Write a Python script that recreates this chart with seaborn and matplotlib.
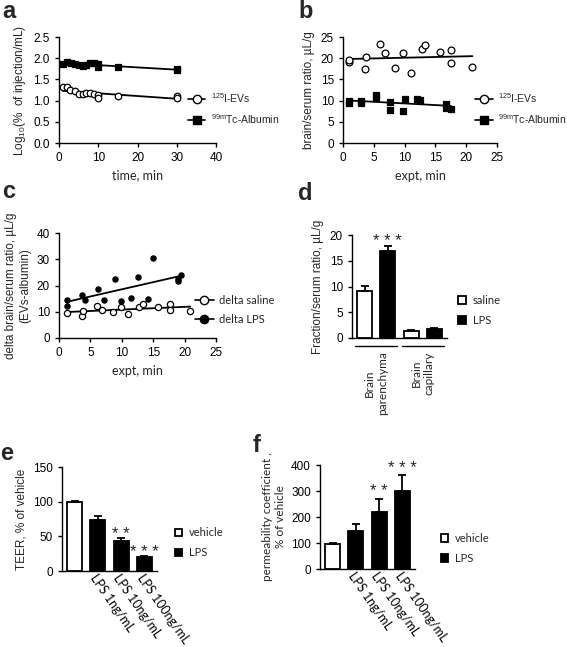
import numpy as np
import pandas as pd
import matplotlib
matplotlib.use("Agg")
import matplotlib.pyplot as plt
import seaborn as sns
from matplotlib.lines import Line2D
from matplotlib.transforms import blended_transform_factory

# =========================================
# Data
# =========================================
# a: log10(% of injection/mL) vs time
a_ev_time = [1, 2, 2.8, 4, 5, 6, 7, 8, 9, 10, 10, 15, 30, 30]
a_ev_log = [1.31, 1.31, 1.24, 1.23, 1.16, 1.15, 1.19, 1.19, 1.16, 1.14, 1.07, 1.10, 1.11, 1.05]
a_alb_time = [1, 2, 3, 4, 5, 6, 7, 8, 9, 10, 10, 15, 30, 30]
a_alb_log = [1.86, 1.92, 1.88, 1.86, 1.85, 1.82, 1.85, 1.88, 1.88, 1.86, 1.79, 1.80, 1.75, 1.71]

# b: brain/serum ratio vs expt
b_ev_time = [1, 1, 3.5, 3.8, 6, 6.8, 8.5, 9.8, 11, 12.8, 13.3, 15.7, 17.5, 17.5, 21]
b_ev_ratio = [19.0, 19.6, 17.5, 20.3, 23.3, 21.2, 17.6, 21.2, 16.5, 22.1, 23.1, 21.5, 22.0, 18.8, 18.0]
b_alb_time = [1, 1, 3, 3, 5.3, 5.3, 7.6, 7.6, 9.8, 10.1, 12, 12.5, 16.7, 16.7, 17.5]
b_alb_ratio = [9.8, 9.5, 9.9, 9.4, 11.3, 10.6, 9.6, 7.8, 7.6, 10.3, 10.3, 10.1, 9.1, 8.3, 8.0]

# c: delta brain/serum ratio (EVs-albumin)
c_sal_time = [1.2, 3.6, 3.8, 6.1, 6.9, 8.6, 9.8, 11, 12.8, 13.4, 15.7, 17.7, 17.7, 20.9]
c_sal_ratio = [9.5, 8.3, 10.4, 12.1, 10.8, 9.9, 11.8, 9.1, 11.8, 13.0, 11.7, 13.0, 10.8, 10.2]
c_lps_time = [1.2, 1.2, 3.6, 4.1, 6.2, 7.1, 8.9, 9.9, 11.5, 12.6, 14.1, 15, 19, 19, 19.5]
c_lps_ratio = [14.6, 12.1, 16.5, 14.6, 18.7, 14.5, 22.5, 14.0, 15.2, 23.4, 14.9, 30.5, 21.6, 22.6, 24.1]

# d: fraction/serum ratio
d_bars = ["par_saline", "par_LPS", "cap_saline", "cap_LPS"]
d_treat = ["saline", "LPS", "saline", "LPS"]
d_mean = [9.2, 16.8, 1.3, 1.8]
d_err = [0.9, 1.1, 0.2, 0.15]
d_stars = ["", "* * *", "", ""]
d_groups = ["Brain\nparenchyma", "Brain\ncapillary"]

# e: TEER
e_labels = ["vehicle", "LPS 1ng/mL", "LPS 10ng/mL", "LPS 100ng/mL"]
e_treat = ["vehicle", "LPS", "LPS", "LPS"]
e_mean = [99, 73, 43, 20]
e_err = [2, 6, 4, 1]
e_stars = ["", "", "* *", "* * *"]

# f: permeability coefficient
f_labels = ["vehicle", "LPS 1ng/mL", "LPS 10ng/mL", "LPS 100ng/mL"]
f_treat = ["vehicle", "LPS", "LPS", "LPS"]
f_mean = [98, 148, 218, 300]
f_err = [3, 25, 52, 60]
f_stars = ["", "", "* *", "* * *"]

# =========================================
# Style
# =========================================
sns.set_theme(style="ticks")
plt.rcParams["font.family"] = ["Liberation Sans", "DejaVu Sans"]
plt.rcParams["mathtext.default"] = "regular"
plt.rcParams["font.size"] = 8.5
plt.rcParams["axes.linewidth"] = 1.0
plt.rcParams["axes.edgecolor"] = "black"
plt.rcParams["xtick.major.width"] = 1.0
plt.rcParams["ytick.major.width"] = 1.0
plt.rcParams["xtick.major.size"] = 3
plt.rcParams["ytick.major.size"] = 3
plt.rcParams["xtick.labelsize"] = 8.5
plt.rcParams["ytick.labelsize"] = 8.5
plt.rcParams["axes.labelsize"] = 8.5
plt.rcParams["xtick.color"] = "black"
plt.rcParams["ytick.color"] = "black"

CAL = {"family": "Lato", "size": 8}

W, H = 567, 647
fig = plt.figure(figsize=(W / 100, H / 100), dpi=100)


def px_axes(left, right, top, bottom):
    return fig.add_axes([left / W, 1 - bottom / H, (right - left) / W, (bottom - top) / H])


def letter(x, y, s):
    fig.text(x / W, 1 - y / H, s, fontsize=17, fontweight="bold", va="baseline", ha="left")


def reg(ax, x, y, marker, face, s):
    sns.regplot(x=x, y=y, ci=None, ax=ax, marker=marker, color="black",
                scatter_kws=dict(s=s, facecolors=face, edgecolors="black", linewidths=0.9, alpha=1, zorder=3),
                line_kws=dict(color="black", lw=1.3))


def line_legend(ax, handles, labels, anchor, prop):
    ax.legend(handles, labels, loc="center left", bbox_to_anchor=anchor, frameon=False,
              handlelength=1.7, handletextpad=0.5, labelspacing=0.7, borderpad=0, borderaxespad=0, prop=prop)


h_open = Line2D([], [], color="black", lw=1.2, marker="o", mfc="white", mec="black", ms=6)
h_sq = Line2D([], [], color="black", lw=1.2, marker="s", mfc="black", mec="black", ms=6)
h_dot = Line2D([], [], color="black", lw=1.2, marker="o", mfc="black", mec="black", ms=6)

# ---------- a ----------
ax = px_axes(59, 216, 37, 143)
reg(ax, a_ev_time, a_ev_log, "o", "white", 22)
reg(ax, a_alb_time, a_alb_log, "s", "black", 24)
ax.set_xlim(0, 40)
ax.set_ylim(0, 2.5)
ax.set_xticks([0, 10, 20, 30, 40])
ax.set_yticks([0, 0.5, 1.0, 1.5, 2.0, 2.5])
ax.set_xlabel("time, min", fontdict=dict(family="Lato", size=9))
ax.set_ylabel(r"Log$_{10}$(%  of injection/mL)")
line_legend(ax, [h_open, h_sq], [r"$^{125}$I-EVs", r"$^{99m}$Tc-Albumin"], (0.82, 0.325),
            {"size": 7.5})
sns.despine(ax=ax)
letter(2, 18, "a")

# ---------- b ----------
ax = px_axes(343, 497, 37, 143)
reg(ax, b_ev_time, b_ev_ratio, "o", "white", 24)
reg(ax, b_alb_time, b_alb_ratio, "s", "black", 24)
ax.set_xlim(0, 25)
ax.set_ylim(0, 25)
ax.set_xticks([0, 5, 10, 15, 20, 25])
ax.set_yticks([0, 5, 10, 15, 20, 25])
ax.set_xlabel("expt, min", fontdict=dict(family="Lato", size=9))
ax.set_ylabel("brain/serum ratio, µL/g")
line_legend(ax, [h_open, h_sq], [r"$^{125}$I-EVs", r"$^{99m}$Tc-Albumin"], (0.857, 0.325),
            {"size": 7.5})
sns.despine(ax=ax)
letter(298, 18, "b")

# ---------- c ----------
ax = px_axes(59, 216, 233, 338)
reg(ax, c_sal_time, c_sal_ratio, "o", "white", 20)
reg(ax, c_lps_time, c_lps_ratio, "o", "black", 14)
ax.set_xlim(0, 25)
ax.set_ylim(0, 40)
ax.set_xticks([0, 5, 10, 15, 20, 25])
ax.set_yticks([0, 10, 20, 30, 40])
ax.set_xlabel("expt, min", fontdict=dict(family="Lato", size=9))
ax.set_ylabel("delta brain/serum ratio, µL/g\n(EVs-albumin)")
line_legend(ax, [h_open, h_dot], ["delta saline", "delta LPS"], (0.866, 0.267), CAL)
sns.despine(ax=ax)
letter(2, 198, "c")


# ---------- bar panels ----------
def bar_panel(ax, names, treat, mean, err, stars, palette, star_pad):
    df = pd.DataFrame({"bar": names, "value": mean, "treatment": treat})
    sns.barplot(data=df, x="bar", y="value", hue="treatment", palette=palette, dodge=False,
                width=0.65, edgecolor="black", linewidth=1.3, errorbar=None, ax=ax)
    pos = np.arange(len(mean))
    ax.errorbar(pos, mean, yerr=[np.zeros(len(err)), err], fmt="none", ecolor="black",
                elinewidth=1.3, capsize=3, capthick=1.3, zorder=4)
    for p, m, e, s in zip(pos, mean, err, stars):
        if s:
            ax.annotate(s, (p, m + e), xytext=(0, star_pad), textcoords="offset points",
                        ha="center", va="baseline", fontsize=12)
    ax.set_xlim(-0.54, 3.54)
    ax.set_xlabel("")
    ax.tick_params(axis="x", length=0, pad=1)
    sns.despine(ax=ax)


# ---------- d ----------
ax = px_axes(352, 447, 235, 338)
bar_panel(ax, d_bars, d_treat, d_mean, d_err, d_stars, {"saline": "white", "LPS": "black"}, 0)
ax.set_ylim(0, 20)
ax.set_yticks([0, 5, 10, 15, 20])
ax.set_xticks([])
ax.set_ylabel("Fraction/serum ratio, µL/g")
tr = blended_transform_factory(ax.transData, ax.transAxes)
for (x0, x1), name in zip([(-0.4, 1.4), (1.6, 3.4)], d_groups):
    ax.plot([x0, x1], [-0.08, -0.08], color="black", lw=1.0, transform=tr, clip_on=False)
    ax.text((x0 + x1) / 2, -0.13, name, transform=tr, rotation=90, ha="center", va="top",
            multialignment="center", family="Lato", size=8.5)
sns.move_legend(ax, "center left", bbox_to_anchor=(1.12, 0.267), frameon=False, title=None,
                handlelength=0.7, handleheight=0.7, labelspacing=0.8, handletextpad=0.6,
                borderpad=0, borderaxespad=0, prop=CAL)
letter(298, 200, "d")

# ---------- e ----------
ax = px_axes(62, 157, 467, 571)
bar_panel(ax, e_labels, e_treat, e_mean, e_err, e_stars, {"vehicle": "white", "LPS": "black"}, -0.5)
ax.set_ylim(0, 150)
ax.set_yticks([0, 50, 100, 150])
ax.set_xticks(range(4))
ax.set_xticklabels([""] + e_labels[1:], rotation=-55, ha="left", rotation_mode="anchor",
                   family="Lato", size=9)
ax.set_ylabel("TEER, % of vehicle")
sns.move_legend(ax, "center left", bbox_to_anchor=(1.185, 0.27), frameon=False, title=None,
                handlelength=0.7, handleheight=0.7, labelspacing=0.8, handletextpad=0.6,
                borderpad=0, borderaxespad=0, prop=CAL)
letter(0, 460, "e")

# ---------- f ----------
ax = px_axes(320, 415, 465, 569)
bar_panel(ax, f_labels, f_treat, f_mean, f_err, f_stars, {"vehicle": "white", "LPS": "black"}, 2)
ax.set_ylim(0, 400)
ax.set_yticks([0, 100, 200, 300, 400])
ax.set_xticks(range(4))
ax.set_xticklabels([""] + f_labels[1:], rotation=-55, ha="left", rotation_mode="anchor",
                   family="Lato", size=9)
ax.set_ylabel("permeability coefficient ,\n% of vehicle", fontdict=dict(family="Lato", size=8.5))
sns.move_legend(ax, "center left", bbox_to_anchor=(1.27, 0.197), frameon=False, title=None,
                handlelength=0.7, handleheight=0.7, labelspacing=0.8, handletextpad=0.6,
                borderpad=0, borderaxespad=0, prop=CAL)
letter(253, 452, "f")

fig.savefig("out.png", dpi=100)
